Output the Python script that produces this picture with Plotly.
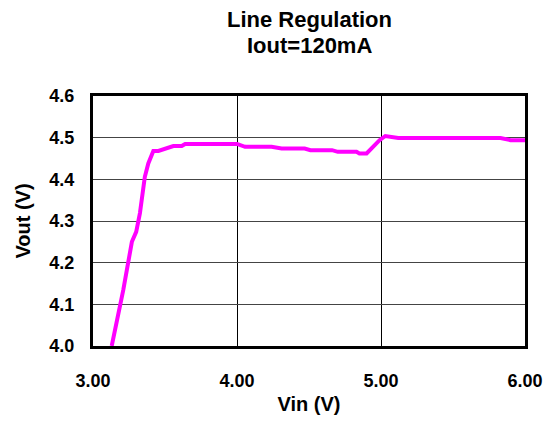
import plotly.graph_objects as go

vin = [3.13, 3.21, 3.27, 3.30, 3.326, 3.36, 3.384, 3.419, 3.454, 3.51, 3.558, 3.616, 3.64,
       4.0, 4.056, 4.24, 4.31, 4.47, 4.51, 4.66, 4.70, 4.83, 4.85, 4.90, 4.99, 5.03,
       5.085, 5.12, 5.83, 5.90, 6.0]
vout = [4.0, 4.134, 4.25, 4.274, 4.319, 4.406, 4.438, 4.468, 4.468, 4.474, 4.48, 4.48, 4.485,
        4.485, 4.478, 4.478, 4.474, 4.474, 4.47, 4.47, 4.466, 4.466, 4.462, 4.462, 4.494, 4.504,
        4.501, 4.499, 4.499, 4.494, 4.494]

x_ticks = [3, 4, 5, 6]
x_labels = ["3.00", "4.00", "5.00", "6.00"]
y_ticks = [4.0, 4.1, 4.2, 4.3, 4.4, 4.5, 4.6]
y_labels = ["4.0", "4.1", "4.2", "4.3", "4.4", "4.5", "4.6"]

FONT = "Arial, Liberation Sans, sans-serif"

fig = go.Figure()
fig.add_trace(go.Scatter(x=vin, y=vout, mode="lines",
                         line=dict(color="#FF00FF", width=4), showlegend=False))

fig.update_layout(
    width=547, height=423,
    margin=dict(l=93, r=22, t=96, b=77, autoexpand=False),
    paper_bgcolor="white", plot_bgcolor="white",
    font=dict(family=FONT, color="black"),
    annotations=[
        dict(text="<b>Line Regulation</b>", xref="paper", yref="paper", x=0.5,
             y=1 + (96 - 20) / 250, xanchor="center", yanchor="middle", showarrow=False,
             font=dict(size=22, family=FONT)),
        dict(text="<b>Iout=120mA</b>", xref="paper", yref="paper", x=0.5,
             y=1 + (96 - 45) / 250, xanchor="center", yanchor="middle", showarrow=False,
             font=dict(size=22, family=FONT)),
    ],
)
fig.update_xaxes(range=[3, 6], tickvals=x_ticks, ticktext=x_labels, automargin=False,
                 showgrid=True, gridcolor="black", gridwidth=1,
                 showline=True, linecolor="black", linewidth=3, mirror=True,
                 ticks="", tickfont=dict(size=18, family=FONT, weight="bold"),
                 ticklabelstandoff=16,
                 title=dict(text="<b>Vin (V)</b>", font=dict(size=20, family=FONT), standoff=8),
                 zeroline=False)
fig.update_yaxes(range=[4.0, 4.6], tickvals=y_ticks, ticktext=y_labels, automargin=False,
                 showgrid=True, gridcolor="#444444", gridwidth=1,
                 showline=True, linecolor="black", linewidth=3, mirror=True,
                 ticks="", tickfont=dict(size=18, family=FONT, weight="bold"),
                 ticklabelstandoff=12,
                 title=dict(text="<b>Vout (V)</b>", font=dict(size=20, family=FONT), standoff=14),
                 zeroline=False)

fig.write_html("out.html")
